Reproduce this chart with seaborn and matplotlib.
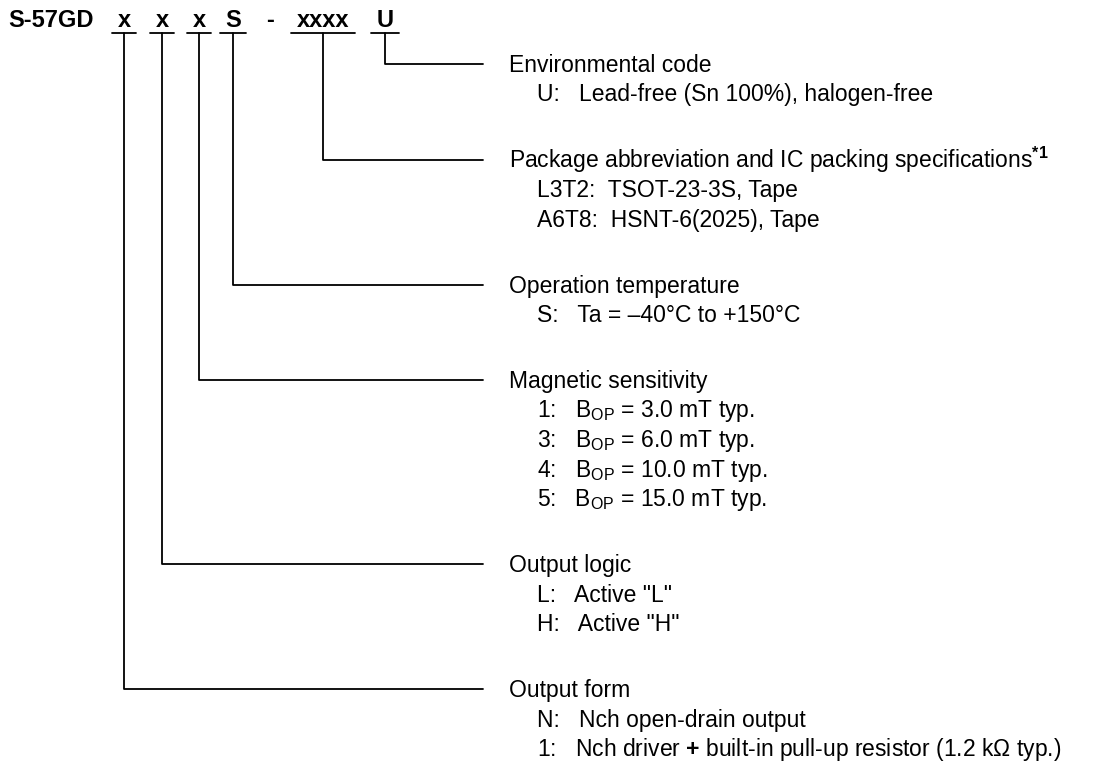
import numpy as np
import pandas as pd
import matplotlib
matplotlib.use("Agg")
import matplotlib.pyplot as plt
import seaborn as sns

# Codice prodotto e descrizioni
code_prefix = "S-57GD"
code_parts = ["x", "x", "x", "S", "-", "xxxx", "U"]
underlined = [True, True, True, True, False, True, True]

headers = [
    "Environmental code",
    r"Package abbreviation and IC packing specifications$^{\mathbf{*1}}$",
    "Operation temperature",
    "Magnetic sensitivity",
    "Output logic",
    "Output form",
]
header_part = [6, 5, 3, 2, 1, 0]   # quale parte del codice descrive ogni voce

options = [
    ["U:   Lead-free (Sn 100%), halogen-free"],
    ["L3T2:  TSOT-23-3S, Tape", "A6T8:  HSNT-6(2025), Tape"],
    ["S:   Ta = \u201340\u00b0C to +150\u00b0C"],
    [r"1:   B$_\mathregular{OP}$ = 3.0 mT typ.",
     r"3:   B$_\mathregular{OP}$ = 6.0 mT typ.",
     r"4:   B$_\mathregular{OP}$ = 10.0 mT typ.",
     r"5:   B$_\mathregular{OP}$ = 15.0 mT typ."],
    ['L:   Active "L"', 'H:   Active "H"'],
    ["N:   Nch open-drain output",
     r"1:   Nch driver $\mathbf{+}$ built-in pull-up resistor (1.2 k$\mathregular{\Omega}$ typ.)"],
]

# Layout (pixel)
W, H = 1095, 769
prefix_x = 8
part_x = [124, 162, 199, 233, 270, 323, 385]
code_base = 27
underline_y = 33
line_end_x = 483
header_x = 509
option_x = 537
first_y = 64
row_step = 29.5
group_gap = 66
fs_code = 17
fs_text = 16.5

sns.set_style("white")
plt.rcParams["font.family"] = ["Liberation Sans", "DejaVu Sans"]
plt.rcParams["text.color"] = "black"
plt.rcParams["mathtext.fontset"] = "custom"
plt.rcParams["mathtext.rm"] = "Liberation Sans"
plt.rcParams["mathtext.bf"] = "Liberation Sans:bold"

fig = plt.figure(figsize=(W / 100, H / 100), dpi=100)
ax = fig.add_axes([0, 0, 1, 1])

# Riga del codice
ax.text(prefix_x, code_base, code_prefix, fontsize=fs_code, fontweight="bold",
        ha="left", va="baseline")
part_texts = []
for p, x in zip(code_parts, part_x):
    t = ax.text(x, code_base, p, fontsize=fs_code, fontweight="bold",
                ha="center", va="baseline")
    part_texts.append(t)

ax.set_xlim(0, W)
ax.set_ylim(H, 0)
fig.canvas.draw()
rend = fig.canvas.get_renderer()
inv = ax.transData.inverted()

# Posizioni verticali delle voci
header_y = []
y = first_y
for opts in options:
    header_y.append(y)
    y += row_step * len(opts) + group_gap

# Percorsi delle linee (sottolineature + connettori)
rows = []
for i, (t, u) in enumerate(zip(part_texts, underlined)):
    if not u:
        continue
    bb = t.get_window_extent(rend)
    (x0, _), (x1, _) = inv.transform([[bb.x0, bb.y0], [bb.x1, bb.y1]])
    rows.append(("u%d" % i, 0, x0 - 5.5, underline_y))
    rows.append(("u%d" % i, 1, x1 + 5.5, underline_y))
for k, (hp, hy) in enumerate(zip(header_part, header_y)):
    xc = part_x[hp]
    rows.append(("c%d" % k, 0, xc, underline_y))
    rows.append(("c%d" % k, 1, xc, hy))
    rows.append(("c%d" % k, 2, line_end_x, hy))
lines = pd.DataFrame(rows, columns=["seg", "order", "x", "y"])

sns.lineplot(data=lines, x="x", y="y", units="seg", estimator=None, sort=False,
             color="black", linewidth=1.3, ax=ax, legend=False)

# Testi descrittivi
for hdr, hy, opts in zip(headers, header_y, options):
    ax.text(header_x, hy + 8, hdr, fontsize=fs_text, ha="left", va="baseline")
    for j, o in enumerate(opts):
        ax.text(option_x, hy + 8 + row_step * (j + 1), o, fontsize=fs_text,
                ha="left", va="baseline")

ax.set_xlim(0, W)
ax.set_ylim(H, 0)
ax.set_axis_off()
fig.savefig("out.png", dpi=100)
